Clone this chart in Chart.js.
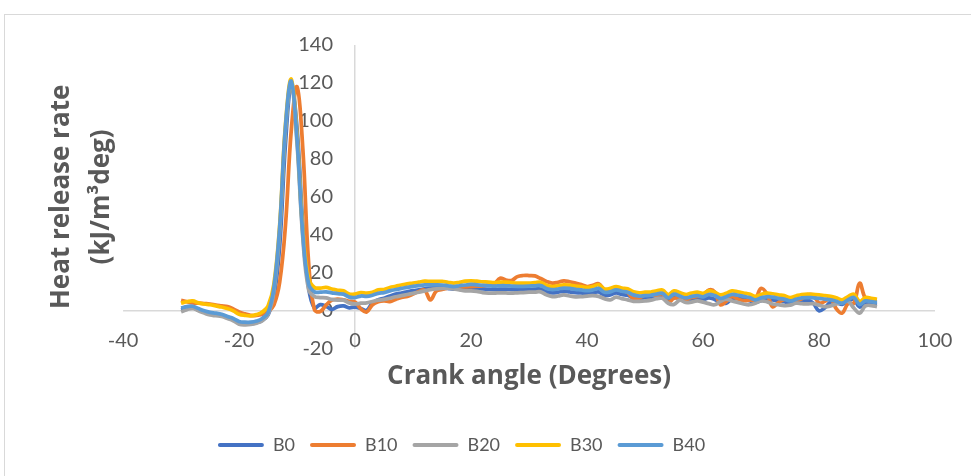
<!DOCTYPE html>
<html>
<head>
<meta charset="utf-8">
<script src="https://cdn.jsdelivr.net/npm/chart.js@4.4.1/dist/chart.umd.min.js"></script>
<style>
  html, body { margin: 0; padding: 0; background: #ffffff; }
  #frame { position: absolute; left: 4px; top: 14px; width: 990px; height: 480px;
           border: 1px solid #d9d9d9; box-sizing: border-box; }
  #hrr { position: absolute; left: 0; top: 0; }
</style>
</head>
<body>
<div id="frame"></div>
<canvas id="hrr" width="971" height="476"></canvas>
<script>
// Crank angle in degrees
const crankAngle = [
  -30, -29, -28, -27, -26, -25, -24, -23, -22, -21,
  -20, -19, -18, -17, -16, -15, -14, -13, -12, -11,
  -10, -9, -8, -7, -6, -5, -4, -3, -2, -1,
  0, 1, 2, 3, 4, 5, 6, 7, 8, 9,
  10, 11, 12, 13, 14, 15, 16, 17, 18, 19,
  20, 21, 22, 23, 24, 25, 26, 27, 28, 29,
  30, 31, 32, 33, 34, 35, 36, 37, 38, 39,
  40, 41, 42, 43, 44, 45, 46, 47, 48, 49,
  50, 51, 52, 53, 54, 55, 56, 57, 58, 59,
  60, 61, 62, 63, 64, 65, 66, 67, 68, 69,
  70, 71, 72, 73, 74, 75, 76, 77, 78, 79,
  80, 81, 82, 83, 84, 85, 86, 87, 88, 89,
  90
];

// Heat release rate (kJ/m3deg) for each blend
const hrrB0 = [
  0.5, 1.2, 1.6, 0.4, -0.6, -1.4, -1.8, -2.4, -3.6, -4.6,
  -6.4, -6.8, -6.8, -6.2, -5.0, -2.2, 7, 34, 88, 119,
  96, 45, 12, 1.5, 3.3, 2.4, 0.8, 2.2, 2.6, 1.6,
  2.0, 1.2, 0.2, 4.2, 5.8, 6.6, 7.8, 8.8, 9.4, 10.0,
  10.6, 11.0, 11.6, 12.0, 12.2, 12.2, 11.8, 11.4, 11.6, 11.9,
  12.0, 11.8, 11.5, 11.3, 11.2, 11.4, 11.4, 11.2, 11.0, 11.1,
  11.2, 11.4, 11.5, 10.0, 9.4, 9.8, 10.3, 10.0, 9.6, 9.4,
  9.0, 9.4, 10.0, 8.2, 8.4, 9.4, 8.6, 8.2, 6.8, 6.4,
  6.6, 6.8, 7.4, 7.8, 5.4, 7.2, 6.4, 5.4, 6.0, 6.6,
  6.0, 6.8, 6.0, 4.4, 4.0, 6.4, 6.6, 6.0, 5.4, 4.4,
  5.4, 6.0, 5.8, 5.2, 4.8, 4.0, 4.6, 5.4, 5.6, 4.0,
  0.0, 1.6, 4.6, 4.4, 3.4, 5.0, 6.0, 2.0, 4.2, 3.8,
  3.4
];
const hrrB10 = [
  5.5, 4.8, 4.2, 4.0, 3.8, 3.6, 3.0, 2.6, 2.2, 1.0,
  -0.6, -1.6, -2.4, -2.4, -1.8, -0.4, 3, 15, 45, 95,
  118, 85, 25, 0.5, -0.4, 3.0, 5.6, 6.2, 5.8, 5.0,
  4.6, 1.0, -0.6, 3.2, 4.8, 5.2, 4.9, 6.0, 7.0, 7.6,
  8.8, 10.2, 10.8, 5.8, 10.4, 11.2, 12.0, 12.3, 12.5, 12.6,
  12.8, 13.0, 13.2, 13.6, 14.2, 17.2, 16.2, 16.0, 18.0, 18.6,
  18.6, 18.4, 17.0, 15.5, 14.6, 15.0, 15.8, 15.3, 14.6, 13.8,
  12.8, 13.4, 14.2, 11.2, 11.2, 11.9, 10.8, 9.6, 6.4, 6.8,
  8.4, 8.4, 8.2, 8.8, 4.4, 6.6, 6.6, 5.8, 7.0, 7.6,
  8.0, 11.0, 10.0, 3.2, 5.0, 7.4, 6.2, 5.4, 5.6, 6.0,
  11.8, 9.0, 2.2, 4.4, 6.0, 6.2, 5.6, 6.4, 8.4, 8.2,
  4.2, 5.0, 6.8, 1.0, -1.2, 3.8, 4.0, 14.6, 6.6, 5.8,
  5.8
];
const hrrB20 = [
  -0.5, 0.6, 1.3, 0.0, -1.2, -2.2, -2.6, -3.0, -4.0, -5.2,
  -7.0, -7.4, -7.2, -6.5, -5.2, -2.0, 10, 42, 95, 120,
  88, 38, 11, 7.5, 7.0, 6.8, 6.0, 5.6, 5.6, 4.2,
  3.6, 4.0, 4.2, 4.9, 5.6, 6.0, 6.6, 7.4, 8.0, 8.6,
  9.2, 9.8, 10.5, 11.2, 11.6, 11.8, 11.9, 11.6, 11.0, 10.5,
  10.5, 10.2, 9.6, 9.3, 9.3, 9.5, 9.4, 9.3, 9.5, 9.6,
  9.8, 9.9, 10.0, 8.4, 7.5, 7.8, 8.4, 7.8, 7.4, 7.5,
  7.8, 8.0, 7.6, 6.4, 5.8, 7.2, 6.4, 5.8, 5.0, 5.0,
  5.2, 5.6, 6.4, 6.6, 4.0, 3.4, 5.6, 4.4, 4.6, 5.2,
  4.6, 3.8, 3.2, 5.0, 6.2, 5.2, 4.4, 3.6, 3.2, 4.0,
  5.2, 4.8, 3.6, 3.2, 2.8, 3.0, 4.0, 3.8, 3.6, 3.8,
  3.0, 2.2, 2.6, 3.6, 4.4, 5.0, 1.5, -1.2, 2.6, 2.8,
  2.2
];
const hrrB30 = [
  4.0, 4.8, 5.2, 4.2, 3.6, 3.2, 2.6, 2.0, 1.2, 0.0,
  -1.8, -2.4, -2.6, -2.0, -0.6, 2.5, 14, 45, 98, 122,
  92, 42, 17, 12.3, 12.0, 12.3, 11.5, 10.8, 10.5, 8.8,
  8.8, 9.6, 9.3, 9.8, 11.0, 11.2, 12.3, 12.9, 13.6, 14.2,
  14.6, 15.1, 15.6, 15.5, 15.5, 15.5, 15.0, 14.6, 15.0, 15.6,
  15.8, 15.6, 15.3, 15.1, 14.8, 15.1, 15.1, 14.8, 14.6, 14.6,
  14.6, 14.8, 15.0, 13.4, 12.8, 13.2, 13.7, 13.5, 13.0, 12.8,
  12.3, 12.8, 13.7, 11.5, 11.8, 12.8, 12.0, 11.6, 10.0, 9.5,
  9.8, 9.9, 10.5, 11.0, 8.6, 10.5, 9.6, 8.6, 9.3, 9.8,
  9.2, 10.5, 9.8, 8.4, 9.2, 10.5, 10.0, 9.4, 8.8, 7.6,
  8.6, 9.3, 9.0, 8.4, 8.0, 7.0, 7.8, 8.6, 8.8, 8.6,
  8.4, 8.0, 7.6, 6.8, 5.8, 7.5, 8.8, 5.0, 7.0, 6.6,
  6.1
];
const hrrB40 = [
  1.5, 2.2, 2.4, 1.2, 0.0, -0.8, -1.2, -1.8, -3.0, -4.0,
  -5.6, -6.0, -6.0, -5.4, -4.0, -1.0, 12, 44, 97, 121,
  90, 40, 14, 10, 9.8, 10, 9.5, 9.0, 8.8, 7.2,
  7.0, 7.8, 7.6, 8.2, 9.2, 9.6, 10.5, 11.2, 11.8, 12.4,
  12.9, 13.3, 13.7, 13.7, 13.7, 13.6, 13.2, 12.8, 13.2, 13.6,
  13.9, 13.7, 13.4, 13.2, 13.0, 13.2, 13.2, 13.0, 12.9, 12.9,
  13.0, 13.2, 13.3, 11.8, 11.2, 11.5, 12.0, 11.8, 11.3, 11.0,
  10.6, 11.0, 11.8, 9.8, 10.0, 11.0, 10.3, 9.8, 8.4, 7.8,
  8.0, 8.2, 8.8, 9.2, 6.8, 8.8, 7.8, 6.8, 7.5, 8.0,
  7.4, 8.6, 8.0, 6.6, 7.4, 8.6, 8.2, 7.6, 7.0, 5.8,
  6.8, 7.4, 7.2, 6.6, 6.2, 5.2, 6.0, 6.8, 7.0, 6.8,
  6.6, 6.2, 5.8, 5.0, 4.0, 5.8, 7.0, 3.4, 5.2, 4.8,
  4.4
];

const blendNames = ['B0', 'B10', 'B20', 'B30', 'B40'];
const blendValues = [hrrB0, hrrB10, hrrB20, hrrB30, hrrB40];
const blendColors = ['#4472C4', '#ED7D31', '#A5A5A5', '#FFC000', '#5B9BD5'];

// Axis tick values
const xTickValues = [-40, -20, 0, 20, 40, 60, 80, 100];
const yTickValues = [-20, 0, 20, 40, 60, 80, 100, 120, 140];

const textGrey = '#595959';
const axisGrey = '#d9d9d9';
const tickFont = { family: 'Lato', size: 20 };
const titleFont = { family: 'Open Sans', size: 26, weight: 'bold' };
const clear = 'rgba(0,0,0,0)';

const datasets = blendNames.map((name, i) => ({
  label: name,
  data: crankAngle.map((a, k) => ({ x: a, y: blendValues[i][k] })),
  borderColor: blendColors[i],
  backgroundColor: blendColors[i],
  borderWidth: 3.75,
  pointRadius: 0,
  tension: 0.4,
  fill: false,
  order: blendNames.length - i   // later blends are painted over earlier ones
}));

// Nudge the legend row sideways after layout
const legendShift = {
  id: 'legendShift',
  afterLayout(chart) {
    const lg = chart.legend;
    if (lg) { lg.left -= 27; lg.right -= 27; }
  }
};

new Chart(document.getElementById('hrr'), {
  type: 'line',
  data: { datasets },
  options: {
    responsive: false,
    animation: false,
    devicePixelRatio: 1,
    layout: { padding: { left: 42, right: 36, top: 45, bottom: 12 } },
    plugins: {
      tooltip: { enabled: false },
      legend: {
        position: 'bottom',
        labels: {
          sort: (a, b) => a.datasetIndex - b.datasetIndex,
          boxWidth: 46,
          boxHeight: 4,
          padding: 15,
          useBorderRadius: true,
          borderRadius: 2,
          color: textGrey,
          font: { family: 'Lato', size: 18 },
          generateLabels(chart) {
            const items = Chart.defaults.plugins.legend.labels.generateLabels(chart);
            items.forEach(it => { it.lineWidth = 0; it.fillStyle = it.strokeStyle; });
            return items;
          }
        }
      }
    },
    scales: {
      // crank-angle tick labels sit along the bottom edge of the plot
      x: {
        type: 'linear',
        position: { y: -20 },
        min: -40,
        max: 100,
        afterBuildTicks: s => { s.ticks = xTickValues.map(v => ({ value: v })); },
        grid: {
          drawTicks: false,
          lineWidth: 1.5,
          color: c => (c.tick && c.tick.value === 0) ? axisGrey : clear
        },
        border: { display: false },
        ticks: { color: textGrey, font: tickFont, padding: -20, maxRotation: 0 }
      },
      xTitle: {
        type: 'linear',
        position: 'bottom',
        min: -40,
        max: 100,
        grid: { display: false, drawTicks: false },
        border: { display: false },
        ticks: { display: false },
        title: {
          display: true,
          text: 'Crank angle (Degrees)',
          color: textGrey,
          font: titleFont,
          padding: { top: 12, bottom: 29 }
        }
      },
      // value tick labels sit just left of the zero-degree line
      y: {
        type: 'linear',
        position: { x: -3.8 },
        min: -20,
        max: 140,
        afterBuildTicks: s => { s.ticks = yTickValues.map(v => ({ value: v })); },
        grid: {
          drawTicks: false,
          lineWidth: 1.5,
          color: c => (c.tick && c.tick.value === 0) ? axisGrey : clear
        },
        border: { display: false },
        ticks: { color: textGrey, font: tickFont }
      },
      yTitle: {
        type: 'linear',
        position: 'left',
        min: -20,
        max: 140,
        grid: { display: false, drawTicks: false },
        border: { display: false },
        ticks: { display: false },
        title: {
          display: true,
          text: ['Heat release rate', '(kJ/m\u00B3deg)'],
          color: textGrey,
          font: { family: 'Open Sans', size: 26, weight: 'bold', lineHeight: 1.54 },
          padding: { top: 0, bottom: 1 }
        }
      }
    }
  },
  plugins: [legendShift]
});
</script>
</body>
</html>
